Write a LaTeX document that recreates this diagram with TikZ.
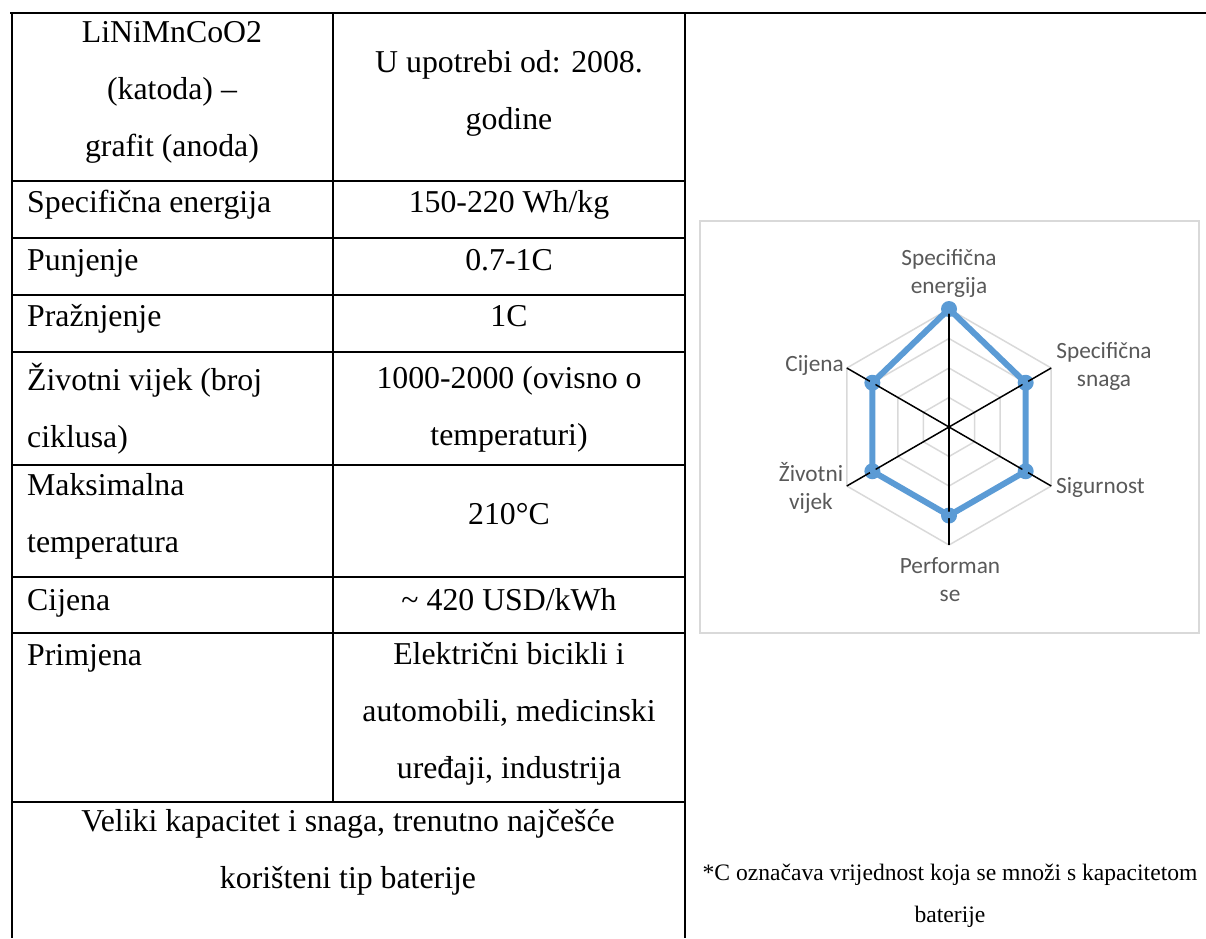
\documentclass[tikz,border=0pt]{standalone}
\usepackage{fontspec}
\setmainfont{Liberation Serif}
\newfontfamily\chartfont{Carlito}
\usepackage{xcolor}
\definecolor{radarblue}{HTML}{5B9BD5}
\definecolor{gridgray}{HTML}{D9D9D9}
\definecolor{labelgray}{HTML}{595959}

\begin{document}
\begin{tikzpicture}[x=1pt,y=-1pt,
  rule/.style={line width=2pt},
  cell/.style={inner sep=0pt,yshift=-2pt,font=\fontsize{31.8}{57}\selectfont},
  oneline/.style={text height=22pt,text depth=7pt,yshift=-1pt},
  lcell/.style={cell,anchor=west,align=left},
  vcell/.style={cell,align=center},
  note/.style={inner sep=0pt,align=center,font=\fontsize{23.6}{42}\selectfont},
  axislabel/.style={inner sep=0pt,align=center,text=labelgray,font=\chartfont\fontsize{23.3}{28}\selectfont},
  dot/.style={circle,fill=radarblue,inner sep=0pt,minimum size=16pt}]

\useasboundingbox (0,0) rectangle (1206,938);

% table
\draw[rule] (10,13) -- (1206,13);
\draw[rule] (12,13) -- (12,938);
\draw[rule] (685,13) -- (685,938);
\draw[rule] (333,13) -- (333,802);
\foreach \y in {181,238,295,352,465,577,633,802}
  \draw[rule] (12,\y) -- (685,\y);

\node[vcell] (chem) at (172,90) {LiNiMnCoO2\\(katoda) –\\grafit (anoda)};
\node[vcell] (year) at (509,91) {U upotrebi od: 2008.\\godine};
\node[lcell,oneline] (energy) at (27,202) {Specifična energija};
\node[vcell,oneline] (energyv) at (509,202) {150-220 Wh/kg};
\node[lcell,oneline] (charge) at (27,260) {Punjenje};
\node[vcell,oneline] (chargev) at (509,260) {0.7-1C};
\node[lcell,oneline] (discharge) at (27,316) {Pražnjenje};
\node[vcell,oneline] (dischargev) at (509,316) {1C};
\node[lcell] (life) at (27,407) {Životni vijek (broj\\ciklusa)};
\node[vcell] (lifev) at (509,407) {1000-2000 (ovisno o\\temperaturi)};
\node[lcell] (temp) at (27,514) {Maksimalna\\temperatura};
\node[vcell,oneline] (tempv) at (509,514) {210°C};
\node[lcell,oneline] (price) at (27,600) {Cijena};
\node[vcell,oneline] (pricev) at (509,600) {\textasciitilde{} 420 USD/kWh};
\node[lcell,oneline] (use) at (27,655) {Primjena};
\node[vcell] (usev) at (509,712) {Električni bicikli i\\automobili, medicinski\\uređaji, industrija};
\node[vcell] (summary) at (348,850) {Veliki kapacitet i snaga, trenutno najčešće\\korišteni tip baterije};

% radar chart
\draw[gridgray,line width=1.5pt] (700,221) rectangle (1199,633);
\coordinate (c) at (949,427);
\begin{scope}[shift={(949,427)},yscale=-1]
  \foreach \r in {29.5,59,88.5,118}
    \draw[gridgray,line width=1.5pt] (90:\r) -- (30:\r) -- (-30:\r) -- (-90:\r) -- (-150:\r) -- (150:\r) -- cycle;
  \foreach \a/\n in {90/e,30/s,-30/g,-90/p,-150/z,150/k}
    \coordinate (ax\n) at (\a:118);
  \node[dot] (pe) at (90:118) {};
  \node[dot] (ps) at (30:88.5) {};
  \node[dot] (pg) at (-30:88.5) {};
  \node[dot] (pp) at (-90:88.5) {};
  \node[dot] (pz) at (-150:88.5) {};
  \node[dot] (pk) at (150:88.5) {};
\end{scope}
\foreach \n in {e,s,g,p,z,k}
  \draw[line width=1.5pt] (c) -- (ax\n);
\draw[radarblue,line width=6pt,line join=round]
  (pe.center) -- (ps.center) -- (pg.center) -- (pp.center) -- (pz.center) -- (pk.center) -- cycle;

\node[axislabel] (le) at (949,273) {Specifična\\energija};
\node[axislabel] (ls) at (1104,366) {Specifična\\snaga};
\node[axislabel,anchor=east] (lk) at (844,365) {Cijena};
\node[axislabel,anchor=west] (lg) at (1056,487) {Sigurnost};
\node[axislabel] (lz) at (811,488) {Životni\\vijek};
\node[axislabel] (lp) at (950,580) {Performan\\se};

\node[note] (fn) at (950,896) {*C označava vrijednost koja se množi s kapacitetom\\baterije};
\end{tikzpicture}
\end{document}
